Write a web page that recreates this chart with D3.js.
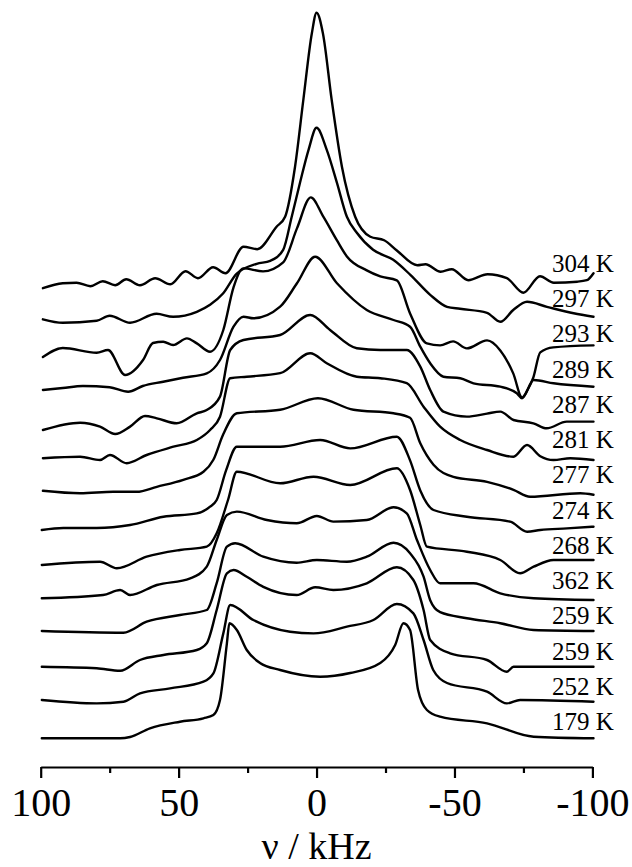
<!DOCTYPE html>
<html>
<head>
<meta charset="utf-8">
<script src="https://cdn.jsdelivr.net/npm/d3@7"></script>
<style>
  html, body { margin: 0; padding: 0; background: #fff; }
  svg { display: block; }
</style>
</head>
<body>
<svg id="chart" width="632" height="867"></svg>
<script>
// Temperature labels, top trace first
const temperatures = ["304 K", "297 K", "293 K", "289 K", "287 K", "281 K", "277 K",
                      "274 K", "268 K", "362 K", "259 K", "259 K", "252 K", "179 K"];

// Frequency axis ticks (kHz)
const majorTicks = [100, 50, 0, -50, -100];
const minorTicks = [75, 25, -25, -75];

// Spectra: [frequency in kHz, intensity in arbitrary units]
const spec304 = [[99.2,0],[92,5],[87,5.5],[82,2],[77.5,7],[73,3],[69,9],[64,3],[58.5,10],[53,4],[47.5,17],[43,10],[37.5,21],[33,15],[26.5,41.5],[21.5,39],[14.5,61.5],[11.4,71.5],[7.8,121.5],[4.8,188],[1.7,255],[0,275.5],[-2.3,255],[-5.5,188],[-9.2,121.5],[-14,71.5],[-19.5,51.5],[-24.5,48],[-29,38],[-36.5,23],[-39.5,24],[-45,16.5],[-49,19],[-55,8],[-62,14],[-69,10],[-75,-4.5],[-81,12],[-86,5.5],[-94.5,6.5],[-98,8],[-100.4,15]];
const spec297 = [[99.2,3.5],[92,0],[79.7,2],[75,7],[67.6,0],[58,9],[52,6],[43.4,11],[38.6,18],[34,29],[29,49],[21.7,59],[16.8,62],[12.1,73],[9,106],[6,140],[2.9,173],[0,195],[-3.7,173],[-7.4,140],[-11,106],[-14.6,90],[-20.5,73],[-27.8,63],[-34,48],[-41.2,28],[-47.3,16],[-52,14],[-61.8,10],[-66.6,1],[-71.4,13],[-76.3,21],[-83.5,16],[-93.2,9.5],[-100.4,6]];
const spec293 = [[99.2,0.4],[92,9.4],[79.7,4.7],[75.6,7.4],[69.4,-17.6],[62.9,-2.6],[59.3,14.4],[55.6,15.7],[52,12.4],[47,19],[43.4,14],[38.6,5.7],[33.8,27.4],[30.1,70],[26.6,89],[19.4,86],[12.1,95],[7.1,129],[2.1,160],[-2.4,141],[-7.4,117],[-11,101],[-18.2,87],[-23.1,81],[-29.1,77],[-33.9,44],[-40,14],[-44.8,12],[-49.5,16],[-54.5,9],[-61.8,17],[-66.6,7],[-71.3,-16],[-74.5,-40],[-76.4,-33],[-78.6,-20],[-81.1,5],[-85.8,10],[-100.4,12]];
const spec289 = [[99.2,2],[92,4],[84.7,6],[75,4.7],[68.3,0.3],[63,6],[55.6,10.3],[48.4,14.3],[39.8,18.7],[35,32],[30.1,65.3],[26.5,75.3],[22.9,73.7],[13.2,85.3],[7.1,108.7],[0.5,135.3],[-7.4,108.7],[-18.2,82],[-27.9,72],[-33.9,65.3],[-37.6,45.3],[-41.2,28.7],[-46,15.3],[-52.1,13.7],[-56.9,8.7],[-66.6,5.3],[-72.6,-1.3],[-74.5,-6.3],[-78.7,12],[-85.9,8.7],[-100.4,5.3]];
const spec287 = [[99.2,-3.4],[85.7,3.9],[78.5,0],[73,-7.4],[67.6,0],[62.2,10.6],[57.9,8.3],[50.7,3.3],[43.4,13.3],[39.8,16.6],[35,30],[31.3,76.6],[26.5,86.6],[13.2,91.6],[2.3,111.6],[-4.9,96.6],[-14.6,78.3],[-23.1,76.6],[-32.7,76.6],[-37.6,60],[-41.2,36.6],[-46,15],[-54.5,10],[-61.8,13],[-66.6,15],[-71.4,6.6],[-78.6,3.3],[-83.4,-1.7],[-90.7,5],[-100.4,5]];
const spec281 = [[99.2,3],[85.7,4.5],[78.5,1.2],[74.9,6.2],[68.8,-2],[61.6,6.2],[51.9,14.5],[43.4,21.2],[38.6,31.2],[35,44.5],[31.3,83],[25.3,84.5],[13.2,88],[2.3,108],[-3.7,98],[-14.6,84.5],[-23.1,83],[-32.7,78],[-38.8,54.5],[-44.8,34.5],[-52.1,21.2],[-61.8,11.2],[-71.4,4.5],[-76.3,16.2],[-81.1,5],[-85.9,1.2],[-92,3],[-100.4,1.2]];
const spec277 = [[99.2,5],[85.7,2.5],[73.7,4],[65.2,4],[57.9,9],[48.3,16],[41,24],[37.4,36],[33.9,61],[28.9,82.5],[13.2,86],[-0.5,97.5],[-13.4,86],[-27.9,82.5],[-33.9,78],[-37.6,52.5],[-42.4,31],[-49.6,19],[-61.8,14],[-71.4,6],[-77.4,-1],[-95.6,2.5],[-100.4,1]];
const spec274 = [[99.6,0.4],[91.8,2.4],[79.7,2.4],[67.6,5.4],[55.5,13.7],[43.4,17],[38.6,23.7],[36.2,30.4],[32.8,60],[28.9,83.7],[13.2,83.7],[-1.3,90.4],[-12.2,82],[-29.1,93.7],[-33.9,70],[-37.6,40],[-42.4,20.4],[-54.5,13.7],[-70.2,8.7],[-76.3,-1.3],[-81.1,0.4],[-90.8,2],[-100.4,3.7]];
const spec268 = [[99.6,0],[78.5,3.3],[72.4,-3.3],[61.6,8.3],[49.5,15],[39.8,18.3],[36.2,31.7],[32.1,65],[28.9,93.3],[13.2,81.7],[1.1,88.3],[-12.2,80],[-29.1,96.7],[-33.9,75],[-37.6,40],[-40,18.3],[-54.5,13.3],[-66.6,5],[-73.8,-8.3],[-78.7,-1.7],[-85.9,5],[-100.4,5]];
const spec362 = [[99.6,1.3],[77.4,4.6],[71.2,9.6],[67.6,4.6],[57.9,14.6],[45.8,21.3],[39.8,33],[36.2,59.6],[32.5,84.6],[28.9,88],[18,79.6],[7.2,76.3],[-0.1,83.6],[-6.1,78],[-18.2,79.6],[-27.9,92.3],[-32.7,86.3],[-36.4,59.6],[-41.2,29.6],[-44.8,16.3],[-56.9,16.3],[-66.6,6.3],[-78.7,1.3],[-100.4,-0.4]];
const spec259a = [[99.6,3.2],[70,1.5],[61.6,12.5],[49.5,19.2],[39.8,24.2],[36.2,51],[32.5,87.5],[29.5,91],[19.3,77.5],[7.2,71.5],[-0.1,74.2],[-11,72.5],[-18.2,77.5],[-27.9,91.5],[-33.9,81],[-38.8,57.5],[-41.2,34],[-44.8,22],[-54.5,16],[-66.6,11],[-78.6,4.2],[-100.4,3.2]];
const spec259b = [[99.6,2],[79.7,0.5],[71.2,-2],[64,8.8],[55.5,13.8],[43.4,18.8],[39.8,25.5],[36.2,58.8],[32.5,95.5],[30.1,98.8],[25.3,92],[19.3,82],[7.2,73.8],[0.5,81.5],[-6.1,78.8],[-18.2,85.5],[-29.1,101.5],[-35.1,88.8],[-38.8,58.8],[-41.2,28.8],[-48.4,15.5],[-61.8,8.8],[-69,-2.9],[-71.4,2],[-100.4,2]];
const spec252 = [[99.6,3.4],[79.7,0],[70,1.7],[64,10],[53.1,15],[41,21.7],[37.4,30],[33.8,70],[31.3,98.4],[22.9,83.4],[9.6,71.7],[1.1,70],[-11,76.7],[-20.6,83.4],[-29.1,99.4],[-35.1,90],[-38.8,63.4],[-42.3,33.4],[-47.3,20.4],[-61.8,11.7],[-69,0],[-73.8,3.4],[-100.4,1.7]];
const spec179 = [[99.6,-0.3],[71.2,-0.3],[67.6,1],[60.4,9.7],[49.5,16.3],[41,19.7],[37.4,23],[35,38],[32.5,94.7],[31.6,114.7],[28.9,108],[25.3,88],[20.5,75],[13.2,68],[-1.3,61.3],[-12.2,65],[-23.1,75],[-28.5,93],[-31.5,114.7],[-33.9,108],[-36.8,48],[-40,28],[-44.8,21.3],[-61.8,14.7],[-78.7,1.3],[-100.4,-0.3]];

const spectra = [spec304, spec297, spec293, spec289, spec287, spec281, spec277,
                 spec274, spec268, spec362, spec259a, spec259b, spec252, spec179];

const svg = d3.select("#chart");
svg.append("rect").attr("width", 632).attr("height", 867).attr("fill", "#fff");

const serif = "'Liberation Serif', 'Times New Roman', Times, serif";

// Frequency runs high to low, left to right
const x = d3.scaleLinear().domain([100, -100]).range([40.7, 592.4]);
// Intensity scale; traces are stacked with a constant vertical step
const y = d3.scaleLinear().domain([0, 750]).range([738, -12]);
const step = 34.6;
const n = spectra.length;
const offsetOf = i => (n - 1 - i) * step;

const line = d3.line()
  .x(d => x(d[0]))
  .y(d => d.y)
  .curve(d3.curveMonotoneX);

const traces = svg.append("g");
spectra.forEach((spec, i) => {
  const pts = spec.map(d => { const p = [d[0], d[1]]; p.y = y(offsetOf(i) + d[1]); return p; });
  traces.append("path")
    .attr("d", line(pts))
    .attr("fill", "none")
    .attr("stroke", "#000")
    .attr("stroke-width", 2.4)
    .attr("stroke-linejoin", "round")
    .attr("stroke-linecap", "round");
});

// Temperature labels at the right end of each trace
const labelY = d3.scaleLinear().domain([0, n - 1]).range([272, 730]);
svg.append("g").selectAll("text")
  .data(temperatures)
  .join("text")
  .attr("x", 552)
  .attr("y", (d, i) => labelY(i))
  .attr("font-family", serif)
  .attr("font-size", 25)
  .attr("fill", "#000")
  .text(d => d);

// Frequency axis
const axisY = 767;
const axis = svg.append("g")
  .attr("transform", `translate(0,${axisY})`)
  .call(d3.axisBottom(x).tickValues(majorTicks).tickSize(11).tickSizeOuter(0)
        .tickFormat(d => String(d)));
axis.select(".domain").attr("stroke", "#000").attr("stroke-width", 2.2);
axis.selectAll(".tick line").attr("stroke", "#000").attr("stroke-width", 2.2);
axis.selectAll(".tick text")
  .attr("y", 48.5).attr("dy", 0)
  .attr("font-family", serif)
  .attr("font-size", 40)
  .attr("fill", "#000");

const minor = svg.append("g")
  .attr("transform", `translate(0,${axisY})`)
  .call(d3.axisBottom(x).tickValues(minorTicks).tickSize(6).tickSizeOuter(0).tickFormat(""));
minor.select(".domain").remove();
minor.selectAll(".tick line").attr("stroke", "#000").attr("stroke-width", 2.2);

svg.append("text")
  .attr("x", 316.5)
  .attr("y", 858.5)
  .attr("text-anchor", "middle")
  .attr("font-family", serif)
  .attr("font-size", 38)
  .attr("fill", "#000")
  .text("ν / kHz");
</script>
</body>
</html>
